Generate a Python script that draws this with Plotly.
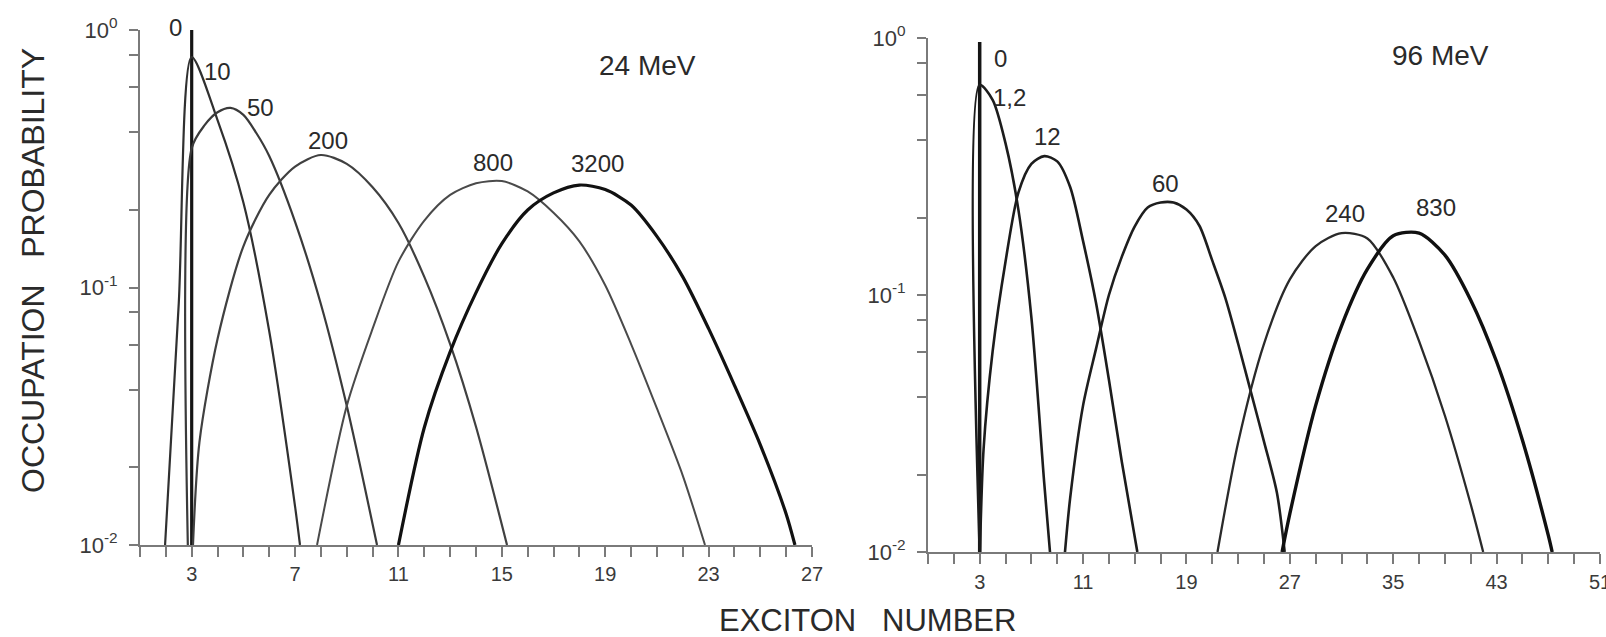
import plotly.graph_objects as go

# ---------------- data: left panel (24 MeV) ----------------
L_labels = ["0", "10", "50", "200", "800", "3200"]
L0_n = [3.0, 3.0]
L0_p = [0.01, 1.0]
L10_n = [1.97, 2.5, 3.0, 4, 5, 6, 7, 7.19]
L10_p = [0.01, 0.087, 0.785, 0.447, 0.214, 0.0676, 0.0141, 0.01]
L50_n = [2.85, 3.0, 3.5, 4, 4.5, 5, 5.5, 6, 7, 8, 9, 10.17]
L50_p = [0.01, 0.347, 0.427, 0.479, 0.498, 0.468, 0.398, 0.324, 0.180, 0.0861, 0.0347, 0.01]
L200_n = [3.05, 3.3, 4, 5, 6, 7, 8, 9, 10, 11, 12, 13, 14, 15.2]
L200_p = [0.01, 0.0251, 0.0631, 0.1445, 0.229, 0.295, 0.327, 0.302, 0.245, 0.178, 0.110, 0.0603, 0.0288, 0.01]
L800_n = [7.85, 9, 10, 11, 12, 13, 14, 15, 16, 17, 18, 19, 20, 21, 22, 22.86]
L800_p = [0.01, 0.0347, 0.0692, 0.126, 0.182, 0.229, 0.254, 0.259, 0.236, 0.195, 0.151, 0.102, 0.0603, 0.0339, 0.0186, 0.01]
L3200_n = [11.0, 12, 13, 14, 15, 16, 17, 18, 19, 20, 21, 22, 23, 24, 25, 26, 26.34]
L3200_p = [0.01, 0.0286, 0.0562, 0.0955, 0.148, 0.200, 0.233, 0.250, 0.240, 0.209, 0.158, 0.110, 0.0692, 0.0417, 0.0245, 0.0132, 0.01]

# ---------------- data: right panel (96 MeV) ----------------
R_labels = ["0", "1,2", "12", "60", "240", "830"]
R0_n = [3.0, 3.0]
R0_p = [0.01, 0.965]
R1_n = [3.0, 3.0, 4, 5, 6, 7, 8, 8.44]
R1_p = [0.01, 0.656, 0.575, 0.389, 0.214, 0.0818, 0.0184, 0.01]
R12_n = [3.02, 3.3, 4, 5, 6, 7, 8, 9, 10, 11, 12, 13, 14, 15.2]
R12_p = [0.01, 0.0251, 0.0603, 0.135, 0.251, 0.324, 0.347, 0.331, 0.263, 0.162, 0.0933, 0.0468, 0.0224, 0.01]
R60_n = [9.6, 10, 11, 12, 13, 14, 15, 16, 17, 18, 19, 20, 21, 22, 23, 24, 25, 26, 26.6]
R60_p = [0.01, 0.0162, 0.0372, 0.0617, 0.1, 0.141, 0.185, 0.219, 0.229, 0.229, 0.215, 0.186, 0.136, 0.0977, 0.0646, 0.0417, 0.0269, 0.0170, 0.01]
R240_n = [21.4, 23, 25, 27, 29, 31, 33, 35, 37, 39, 41, 41.96]
R240_p = [0.01, 0.0267, 0.0646, 0.115, 0.155, 0.174, 0.166, 0.117, 0.0661, 0.0339, 0.0153, 0.01]
R830_n = [26.4, 27, 29, 31, 33, 35, 37, 39, 41, 43, 45, 47, 47.3]
R830_p = [0.01, 0.0141, 0.0372, 0.0759, 0.126, 0.170, 0.174, 0.143, 0.0955, 0.0550, 0.0272, 0.0116, 0.01]

# tick definitions
L_xticks = list(range(1, 28))
L_xlabels = [3, 7, 11, 15, 19, 23, 27]
R_xticks = list(range(-1, 52, 2))
R_xlabels = [3, 11, 19, 27, 35, 43, 51]
y_ticks = [1, 0.8, 0.6, 0.4, 0.2, 0.1, 0.08, 0.06, 0.04, 0.02, 0.01]
y_labels = {1: "10<sup>0</sup>", 0.1: "10<sup>-1</sup>", 0.01: "10<sup>-2</sup>"}

# ---------------- styles ----------------
W, H = 1606, 637
FONT = "Liberation Sans, Arial, Helvetica, sans-serif"
TXT = "#2a2a2a"
AXC = "#7a7a7a"

left_series = [(L0_n, L0_p, "#151515", 3.2, "linear"),
               (L10_n, L10_p, "#303030", 2.2, "spline"),
               (L50_n, L50_p, "#3a3a3a", 2.2, "spline"),
               (L200_n, L200_p, "#404040", 2.2, "spline"),
               (L800_n, L800_p, "#4a4a4a", 2.0, "spline"),
               (L3200_n, L3200_p, "#111111", 3.2, "spline")]
right_series = [(R0_n, R0_p, "#151515", 3.5, "linear"),
                (R1_n, R1_p, "#1c1c1c", 2.6, "spline"),
                (R12_n, R12_p, "#1c1c1c", 2.6, "spline"),
                (R60_n, R60_p, "#1e1e1e", 2.6, "spline"),
                (R240_n, R240_p, "#2a2a2a", 2.3, "spline"),
                (R830_n, R830_p, "#101010", 3.4, "spline")]

fig = go.Figure()
for xs, ys, col, lw, shp in left_series:
    fig.add_trace(go.Scatter(x=xs, y=ys, mode="lines", xaxis="x", yaxis="y",
                             line=dict(color=col, width=lw, shape=shp, smoothing=0.8),
                             showlegend=False, hoverinfo="skip"))
for xs, ys, col, lw, shp in right_series:
    fig.add_trace(go.Scatter(x=xs, y=ys, mode="lines", xaxis="x2", yaxis="y2",
                             line=dict(color=col, width=lw, shape=shp, smoothing=0.8),
                             showlegend=False, hoverinfo="skip"))

def xaxis_cfg(dom, rng, ticks, labels, anchor, standoff):
    return dict(domain=dom, range=rng, anchor=anchor, showgrid=False, zeroline=False,
                automargin=False, showline=True, linecolor=AXC, linewidth=2,
                tickmode="array", tickvals=ticks,
                ticktext=[str(t) if t in labels else "" for t in ticks],
                ticks="outside", ticklen=10, tickwidth=2, tickcolor=AXC,
                ticklabelstandoff=standoff, ticklabeloverflow="allow",
                tickfont=dict(family=FONT, size=20, color="#3a3a3a"))

def yaxis_cfg(dom, anchor):
    return dict(domain=dom, type="log", range=[-2, 0], anchor=anchor, automargin=False,
                showgrid=False, zeroline=False, showline=True, linecolor=AXC, linewidth=2,
                tickmode="array", tickvals=y_ticks,
                ticktext=[y_labels.get(t, "") for t in y_ticks],
                ticks="outside", ticklen=9, tickwidth=2, tickcolor=AXC,
                ticklabelstandoff=7, ticklabeloverflow="allow",
                tickfont=dict(family=FONT, size=22, color="#3a3a3a"))

fig.update_layout(
    width=W, height=H, autosize=False,
    margin=dict(l=0, r=0, t=0, b=0, autoexpand=False),
    paper_bgcolor="white", plot_bgcolor="white",
    xaxis=xaxis_cfg([140 / W, 812 / W], [1, 27], L_xticks, L_xlabels, "y", 0),
    yaxis=yaxis_cfg([1 - 545 / H, 1 - 30 / H], "x"),
    xaxis2=xaxis_cfg([928 / W, 1600 / W], [-1, 51], R_xticks, R_xlabels, "y2", 1),
    yaxis2=yaxis_cfg([1 - 552 / H, 1 - 38 / H], "x2"),
)

def label(px, py, txt, size, angle=0):
    fig.add_annotation(x=px / W, y=1 - py / H, xref="paper", yref="paper", text=txt,
                       xanchor="center", yanchor="middle", showarrow=False, textangle=angle,
                       font=dict(family=FONT, size=size, color=TXT))

# curve labels (pixel positions of the text centres)
L_lab_pos = [(175, 28), (217, 72), (260, 107), (328, 140), (493, 162), (597, 163)]
R_lab_pos = [(1000, 58), (1010, 97), (1047, 137), (1165, 183), (1345, 213), (1436, 207)]
for txt, (px, py) in zip(L_labels, L_lab_pos):
    label(px, py, txt, 24)
for txt, (px, py) in zip(R_labels, R_lab_pos):
    label(px, py, txt, 24)

# energy labels
label(647, 65, "24\u00a0MeV", 28)
label(1440, 55, "96\u00a0MeV", 28)

# axis titles
label(33, 271, "OCCUPATION\u00a0\u00a0\u00a0PROBABILITY", 32, -90)
label(867, 620, "EXCITON\u00a0\u00a0\u00a0NUMBER", 31)

fig.write_html("out.html")
